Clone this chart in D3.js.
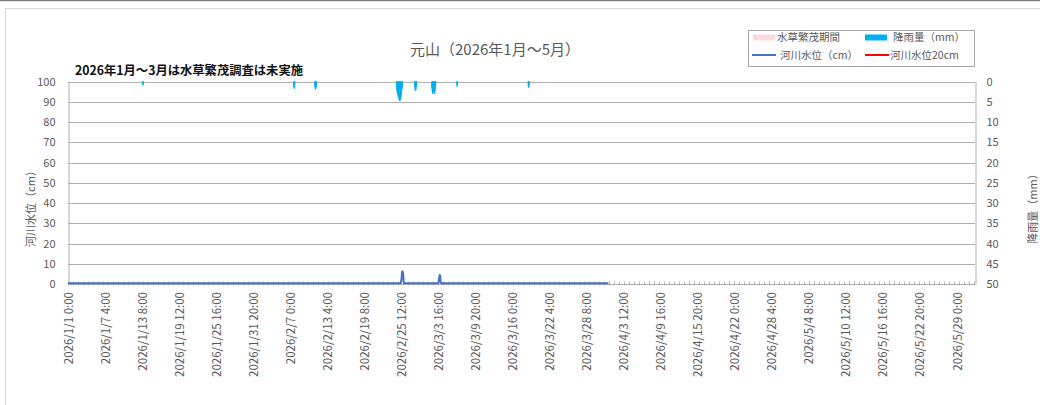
<!DOCTYPE html>
<html><head><meta charset="utf-8">
<script src="https://cdn.jsdelivr.net/npm/d3@7"></script>
<style>
html,body{margin:0;padding:0;background:#fff;}
svg text{font-family:"Noto Sans CJK JP","Noto Sans",sans-serif;}
</style></head>
<body><svg id="chart" width="1040" height="405"></svg>
<script>
// ---- data ----
const titleText = "元山（2026年1月～5月）";
const noteText = "2026年1月～3月は水草繁茂調査は未実施";
const categoryStart = "2026/1/1 0:00";
const categoryEnd = "2026/6/1 0:00";
const tickLabels = ["2026/1/1 0:00","2026/1/7 4:00","2026/1/13 8:00","2026/1/19 12:00","2026/1/25 16:00","2026/1/31 20:00","2026/2/7 0:00","2026/2/13 4:00","2026/2/19 8:00","2026/2/25 12:00","2026/3/3 16:00","2026/3/9 20:00","2026/3/16 0:00","2026/3/22 4:00","2026/3/28 8:00","2026/4/3 12:00","2026/4/9 16:00","2026/4/15 20:00","2026/4/22 0:00","2026/4/28 4:00","2026/5/4 8:00","2026/5/10 12:00","2026/5/16 16:00","2026/5/22 20:00","2026/5/29 0:00"];
const leftTicks = [0,10,20,30,40,50,60,70,80,90,100];
const rightTicks = [0,5,10,15,20,25,30,35,40,45,50];
// hourly rainfall (mm), only hours with rain
const rainfall = [
 ["2026/1/13 11:00",0.8],["2026/1/13 12:00",1.0],["2026/1/13 13:00",0.6],
 ["2026/2/7 14:00",1.0],["2026/2/7 15:00",1.5],["2026/2/7 16:00",1.8],["2026/2/7 17:00",1.5],["2026/2/7 18:00",0.8],
 ["2026/2/11 2:00",1.0],["2026/2/11 3:00",1.5],["2026/2/11 4:00",1.5],["2026/2/11 5:00",2.0],["2026/2/11 6:00",1.8],["2026/2/11 7:00",1.5],["2026/2/11 8:00",1.0],["2026/2/11 9:00",0.5],
 ["2026/2/24 17:00",1.5],["2026/2/24 18:00",2.0],["2026/2/24 19:00",2.5],["2026/2/24 20:00",3.0],["2026/2/24 21:00",3.0],["2026/2/24 22:00",3.5],["2026/2/24 23:00",3.0],
 ["2026/2/25 0:00",3.5],["2026/2/25 1:00",4.0],["2026/2/25 2:00",4.0],["2026/2/25 3:00",4.5],["2026/2/25 4:00",4.5],["2026/2/25 5:00",4.8],["2026/2/25 6:00",4.8],["2026/2/25 7:00",4.5],["2026/2/25 8:00",4.5],["2026/2/25 9:00",4.0],["2026/2/25 10:00",4.0],["2026/2/25 11:00",3.5],["2026/2/25 12:00",3.0],["2026/2/25 13:00",2.5],["2026/2/25 14:00",2.0],["2026/2/25 15:00",1.5],["2026/2/25 16:00",1.0],
 ["2026/2/27 17:00",1.0],["2026/2/27 18:00",1.5],["2026/2/27 19:00",2.0],["2026/2/27 20:00",2.3],["2026/2/27 21:00",2.3],["2026/2/27 22:00",2.0],["2026/2/27 23:00",1.5],["2026/2/28 0:00",1.0],["2026/2/28 1:00",0.5],
 ["2026/3/2 14:00",1.5],["2026/3/2 15:00",2.0],["2026/3/2 16:00",2.5],["2026/3/2 17:00",3.0],["2026/3/2 18:00",3.0],["2026/3/2 19:00",2.5],["2026/3/2 20:00",2.0],["2026/3/2 21:00",1.5],["2026/3/2 22:00",2.0],["2026/3/2 23:00",2.5],
 ["2026/3/3 0:00",3.0],["2026/3/3 1:00",3.0],["2026/3/3 2:00",2.5],["2026/3/3 3:00",2.0],["2026/3/3 4:00",1.5],["2026/3/3 5:00",1.0],
 ["2026/3/6 18:00",1.0],["2026/3/6 19:00",1.3],["2026/3/6 20:00",1.0],
 ["2026/3/18 15:00",1.0],["2026/3/18 16:00",1.5],["2026/3/18 17:00",1.5],["2026/3/18 18:00",1.0],["2026/3/18 19:00",0.5]
];
// river water level (cm) readings
const waterLevel = [
 ["2026/1/1 0:00",0.4],["2026/2/25 10:00",0.4],["2026/2/25 13:00",3.0],["2026/2/25 15:00",6.0],["2026/2/25 17:00",6.2],["2026/2/25 19:00",5.0],["2026/2/25 21:00",1.5],["2026/2/25 23:00",0.4],
 ["2026/3/3 16:00",0.4],["2026/3/3 19:00",3.0],["2026/3/3 21:00",4.4],["2026/3/3 23:00",4.2],["2026/3/4 1:00",1.0],["2026/3/4 3:00",0.4],
 ["2026/3/31 23:00",0.4]
];
const waterLevel20 = [];      // 河川水位20cm (no data drawn)
const weedPeriod = [];        // 水草繁茂期間 (no data drawn)
const legendItems = [
 {name:"水草繁茂期間", kind:"rect", color:"#F9DCDF"},
 {name:"降雨量（mm）", kind:"rect", color:"#00B0F0"},
 {name:"河川水位（cm）", kind:"line", color:"#4472C4"},
 {name:"河川水位20cm", kind:"line", color:"#FF0000"}
];

// ---- helpers ----
function parseT(s){
  const [d,t]=s.split(" "); const [Y,M,D]=d.split("/").map(Number); const [h,m]=t.split(":").map(Number);
  return new Date(Y,M-1,D,h,m);
}
const svg = d3.select("#chart");
const gray = "#595959", gridC = "#B0B0B0";
const L=68, R=975, T=81.5, B=284;

svg.append("rect").attr("width",1040).attr("height",405).attr("fill","#fff");
// outer frame
svg.append("line").attr("x1",0).attr("x2",1040).attr("y1",0.5).attr("y2",0.5).attr("stroke","#7f7f7f").attr("stroke-width",1.5);
svg.append("rect").attr("x",5.5).attr("y",8.5).attr("width",1060).attr("height",410).attr("fill","none").attr("stroke","#D9D9D9");

const x = d3.scaleTime().domain([parseT(categoryStart),parseT(categoryEnd)]).range([L,R]);
const yL = d3.scaleLinear().domain([0,100]).range([B,T]);
const yR = d3.scaleLinear().domain([0,50]).range([T,B]);

// gridlines
svg.append("g").selectAll("line").data(leftTicks.filter(v=>v>0)).join("line")
  .attr("x1",L).attr("x2",R).attr("y1",d=>Math.round(yL(d))+0.5).attr("y2",d=>Math.round(yL(d))+0.5)
  .attr("stroke",gridC).attr("stroke-width",1);

// left axis
const gL = svg.append("g").attr("transform",`translate(${L+0.5},0)`)
  .call(d3.axisLeft(yL).tickValues(leftTicks).tickSize(0).tickPadding(13));
gL.select(".domain").attr("stroke",gridC);
gL.selectAll("text").attr("fill",gray).attr("font-size",11);
// right axis
const gR = svg.append("g").attr("transform",`translate(${R+0.5},0)`)
  .call(d3.axisRight(yR).tickValues(rightTicks).tickSize(0).tickPadding(11));
gR.select(".domain").attr("stroke",gridC);
gR.selectAll("text").attr("fill",gray).attr("font-size",11);

// bottom axis with minor ticks
const gB = svg.append("g").attr("transform",`translate(0,${B+0.5})`);
gB.append("line").attr("x1",L).attr("x2",R).attr("stroke",gridC);
gB.selectAll("line.t").data(d3.range(0,3624,20)).join("line").attr("class","t")
  .attr("x1",d=>Math.round(x(d3.timeHour.offset(parseT(categoryStart),d)))+0.5)
  .attr("x2",d=>Math.round(x(d3.timeHour.offset(parseT(categoryStart),d)))+0.5)
  .attr("y1",-3).attr("y2",1).attr("stroke",gridC);
const xa = d3.axisBottom(x).tickValues(tickLabels.map(parseT)).tickSize(0)
  .tickFormat((d,i)=>tickLabels[i]);
const gX = svg.append("g").attr("transform",`translate(0,${B})`).call(xa);
gX.select(".domain").remove();
gX.selectAll("text").attr("fill",gray).attr("font-size",11.5)
  .attr("transform","rotate(-90)").attr("text-anchor","end").attr("dy","0.35em").attr("x",-8).attr("y",0);

// rainfall bars (hanging from top)
const rainData = rainfall.map(d=>({t:parseT(d[0]),v:d[1]}));
svg.append("g").selectAll("rect").data(rainData).join("rect")
  .attr("x",d=>x(d.t)-0.6).attr("width",d=>Math.max(x(d3.timeHour.offset(d.t,1))-x(d.t),1.2))
  .attr("y",yR(0)).attr("height",d=>yR(d.v)-yR(0))
  .attr("fill","#00B0F0");

// water level line
const wl = waterLevel.map(d=>({t:parseT(d[0]),v:d[1]}));
svg.append("path").datum(wl).attr("fill","none").attr("stroke","#4472C4").attr("stroke-width",2)
  .attr("stroke-linejoin","round")
  .attr("d",d3.line().x(d=>x(d.t)).y(d=>yL(d.v)));

// titles
svg.append("text").attr("x",495).attr("y",55).attr("text-anchor","middle").attr("font-size",15).attr("fill",gray).text(titleText);
svg.append("text").attr("x",75).attr("y",75).attr("font-size",12.3).attr("font-weight","bold").attr("fill","#111").text(noteText);
svg.append("text").attr("transform","translate(31,206) rotate(-90)").attr("text-anchor","middle").attr("dy","0.35em").attr("font-size",11).attr("fill",gray).text("河川水位（cm）");
svg.append("text").attr("transform","translate(1033,206) rotate(-90)").attr("text-anchor","middle").attr("dy","0.35em").attr("font-size",11).attr("fill",gray).text("降雨量（mm）");

// legend
const lg = svg.append("g");
lg.append("rect").attr("x",748.5).attr("y",30.5).attr("width",226).attr("height",36).attr("fill","#fff").attr("stroke","#A6A6A6");
const pos = [[753,37.5],[865,37.5],[752,55],[865,55]];
const textOff = [24,28,28,25];
legendItems.forEach((it,i)=>{
  const [px,py]=pos[i];
  if(it.kind==="rect") lg.append("rect").attr("x",px).attr("y",py-3).attr("width",22).attr("height",6).attr("fill",it.color);
  else lg.append("line").attr("x1",px).attr("x2",px+24).attr("y1",py).attr("y2",py).attr("stroke",it.color).attr("stroke-width",2);
  lg.append("text").attr("x",px+textOff[i]).attr("y",py).attr("dy","0.35em").attr("font-size",10.5).attr("fill",gray).text(it.name);
});
</script></body></html>
